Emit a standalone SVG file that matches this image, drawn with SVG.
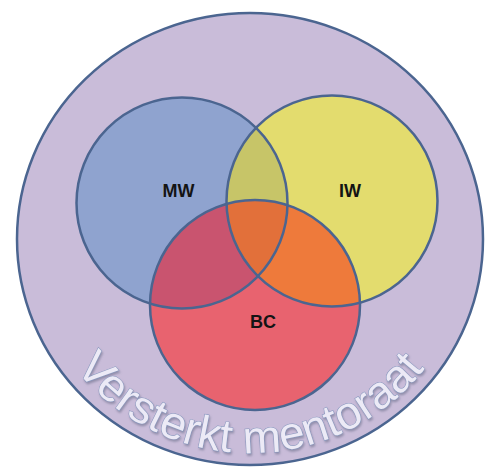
<svg xmlns="http://www.w3.org/2000/svg" width="485" height="468" viewBox="0 0 485 468">
  <style>
    .ring { fill: none; stroke: #4b6590; stroke-width: 2.5; }
    .lbl { font-family: "Liberation Sans", Arial, sans-serif; font-weight: bold; font-size: 18px; fill: #141414; text-anchor: middle; }
    .arc { font-family: "Liberation Sans", Arial, sans-serif; font-size: 46px; fill: #eceaf6; stroke: #8595bd; stroke-width: 1; paint-order: stroke; }
  </style>
  <defs>
    <clipPath id="cMW"><circle cx="182" cy="203" r="105.5"/></clipPath>
    <clipPath id="cIW"><circle cx="332" cy="201" r="105.5"/></clipPath>
    <path id="tp" d="M 56.9 341.5 A 223 223 0 0 0 443.1 341.5"/>
    <filter id="sh" x="-10%" y="-10%" width="120%" height="130%">
      <feDropShadow dx="1" dy="2" stdDeviation="1.2" flood-color="#6d6f8c" flood-opacity="0.6"/>
    </filter>
  </defs>

  <g id="outer">
    <ellipse cx="250" cy="239" rx="233" ry="226" fill="#c9bcd9" stroke="#4b6590" stroke-width="2.5"/>
  </g>

  <g id="fills">
    <circle cx="182" cy="203" r="105.5" fill="#8fa3cf"/>
    <circle cx="332" cy="201" r="105.5" fill="#e3dc6e"/>
    <circle cx="255" cy="305" r="105" fill="#e8636f"/>
  </g>

  <g id="overlaps">
    <g clip-path="url(#cMW)">
      <circle cx="332" cy="201" r="105.5" fill="#c7c568"/>
      <circle cx="255" cy="305" r="105" fill="#c9546f"/>
    </g>
    <g clip-path="url(#cIW)">
      <circle cx="255" cy="305" r="105" fill="#ee7a3b"/>
    </g>
    <g clip-path="url(#cMW)">
      <g clip-path="url(#cIW)">
        <circle cx="255" cy="305" r="105" fill="#e2703a"/>
      </g>
    </g>
  </g>

  <g id="MW">
    <circle class="ring" cx="182" cy="203" r="105.5"/>
    <text class="lbl" x="178.5" y="197">MW</text>
  </g>
  <g id="IW">
    <circle class="ring" cx="332" cy="201" r="105.5"/>
    <text class="lbl" x="350" y="197">IW</text>
  </g>
  <g id="BC">
    <circle class="ring" cx="255" cy="305" r="105"/>
    <text class="lbl" x="263" y="328">BC</text>
  </g>

  <g id="connectors"/>

  <g id="title" filter="url(#sh)">
    <text class="arc"><textPath href="#tp" startOffset="50%" text-anchor="middle">Versterkt mentoraat</textPath></text>
  </g>
</svg>
